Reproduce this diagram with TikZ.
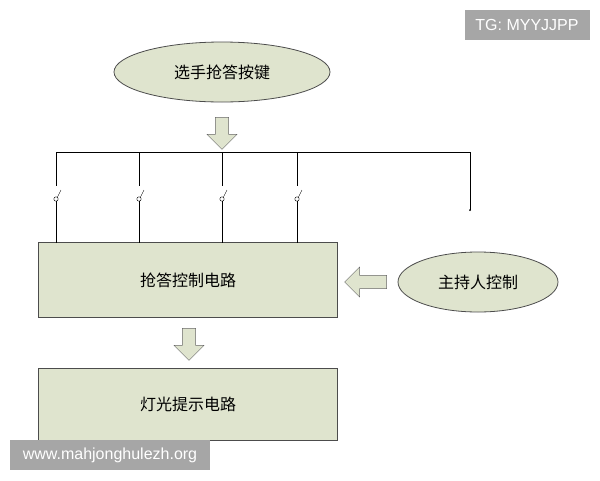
\documentclass[tikz,border=0pt]{standalone}
\usepackage{fontspec}
\setmainfont{Liberation Sans}
\newfontfamily\cjk{Noto Sans CJK SC}
\usetikzlibrary{shapes.geometric,shapes.arrows}
\definecolor{boxfill}{HTML}{DFE4CE}
\definecolor{markgray}{HTML}{A6A6A6}
\tikzset{
    unit/.style={fill=boxfill,draw=black!70,thick},
    keys/.style={unit,ellipse,minimum width=216,minimum height=60,font=\cjk\fontsize{16}{18}\selectfont},
    block/.style={unit,rectangle,minimum width=299,minimum height=75,font=\cjk\fontsize{16}{18}\selectfont},
    fat/.style={single arrow,draw=black!60,fill=boxfill,minimum width=30,minimum height=32,single arrow head extend=4,inner sep=3},
    wire/.style={thin,black},
    stamp/.style={fill=markgray,text=white,font=\fontsize{16}{18}\selectfont,inner sep=5}
}
\def\sw{2.2}
\begin{document}
\begin{tikzpicture}[x=1pt,y=-1pt]
  \useasboundingbox (0,0) rectangle (600,480);
  % Units
  \node[keys] (keys) at (222,72) {选手抢答按键};
  \node[block] (race) at (188,280) {抢答控制电路};
  \node[block,minimum height=72] (lamp) at (188,404) {灯光提示电路};
  \node[keys,minimum width=160] (host) at (478,282) {主持人控制};

  % Fat arrows
  \node[fat,rotate=-90] (a1) at (222,130) {};
  \node[fat,rotate=180,minimum height=42] (a2) at (369,282) {};
  \node[fat,rotate=-90] (a3) at (189,341) {};

  % Bus and switches
  \coordinate (bl) at (56,152);
  \coordinate (br) at (470,152);
  \coordinate (bend) at (470,210);
  \draw[wire] (bl) -- (br) -- (bend);
  \fill (bend) circle (1);
  \foreach \x in {56,139,222,297} {
    \draw[wire] (\x,152) -- (\x,186);
    \draw[wire] (\x,199) circle (\sw);
    \draw[wire] (\x+1.5,197) -- (\x+5,190);
    \draw[wire] (\x,199+\sw) -- (\x,243);
  }

  % Watermarks
  \node[stamp,minimum width=125,minimum height=30] (tg) at (527,25) {TG: MYYJJPP};
  \node[stamp,minimum width=200,minimum height=30] (web) at (110,455) {www.mahjonghulezh.org};
\end{tikzpicture}
\end{document}
